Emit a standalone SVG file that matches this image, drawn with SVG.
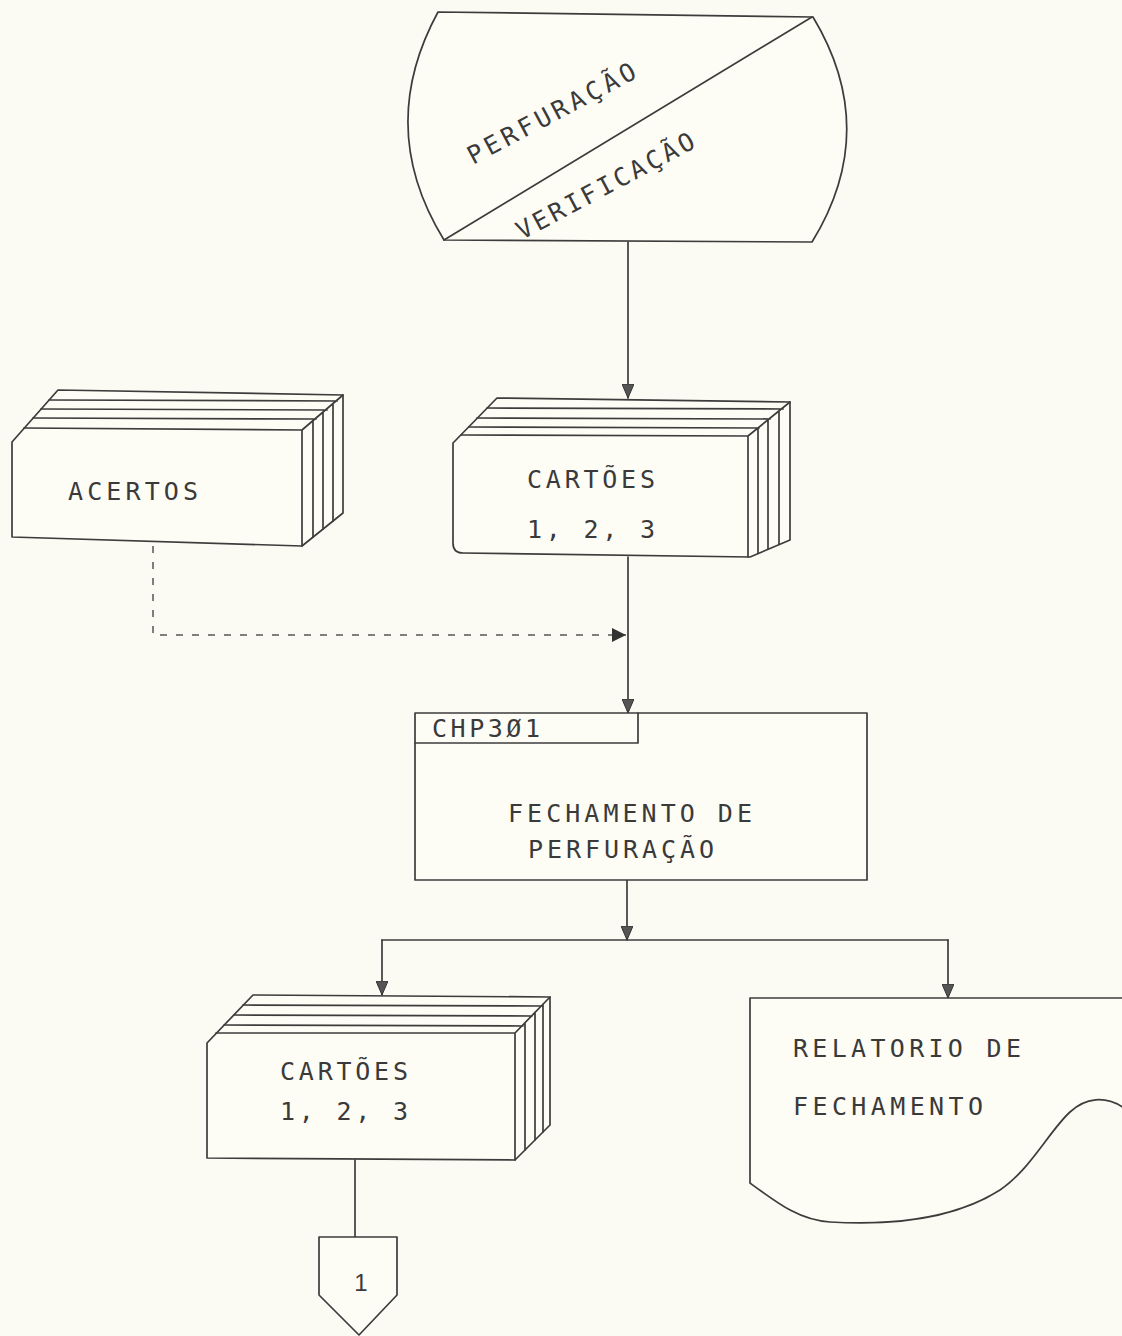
<svg xmlns="http://www.w3.org/2000/svg" width="1122" height="1336" viewBox="0 0 1122 1336">
<defs>
<style>
.s{fill:none;stroke:#3c3c3c;stroke-width:1.7;stroke-linejoin:round;stroke-linecap:round}
.f{fill:#fdfdf6;stroke:#3c3c3c;stroke-width:1.7;stroke-linejoin:round}
.t{font-family:"DejaVu Sans Mono","Liberation Mono",monospace;font-size:25px;fill:#3a3a3a}
.d{fill:none;stroke:#555;stroke-width:1.5;stroke-dasharray:7 9}
</style>
<marker id="ah" viewBox="0 0 14 12" refX="14" refY="6" markerWidth="14" markerHeight="12" markerUnits="userSpaceOnUse" orient="auto">
<path d="M0,0 L14,6 L0,12 Z" fill="#555" stroke="#333" stroke-width="1"/>
</marker>
<marker id="ahd" viewBox="0 0 14 14" refX="14" refY="7" markerWidth="14" markerHeight="14" markerUnits="userSpaceOnUse" orient="auto">
<path d="M0,0 L14,7 L0,14 Z" fill="#333"/>
</marker>
</defs>
<rect width="1122" height="1336" fill="#fbfbf3"/>

<g id="connectors">
<path class="s" d="M628,242 L628,398" marker-end="url(#ah)"/>
<path class="s" d="M628,557 L628,713" marker-end="url(#ah)"/>
<path class="d" d="M153,546 L153,635 L626,635" marker-end="url(#ahd)"/>
<path class="s" d="M627,880 L627,940" marker-end="url(#ah)"/>
<path class="s" d="M382,940 L948,940"/>
<path class="s" d="M382,940 L382,995" marker-end="url(#ah)"/>
<path class="s" d="M948,940 L948,998" marker-end="url(#ah)"/>
<path class="s" d="M355,1160 L355,1237"/>
</g>

<g id="perfuracao-verificacao">
<path class="f" d="M438,12 L813,17 Q881,130 812,242 L444,240 Q375,128 438,12 Z"/>
<path class="s" d="M444,240 L812,17"/>
<text class="t" x="473" y="165" transform="rotate(-28 473 165)" textLength="187">PERFURAÇÃO</text>
<text class="t" x="522" y="240" transform="rotate(-28 522 240)" textLength="198">VERIFICAÇÃO</text>
</g>

<g id="acertos">
<path class="f" d="M12,442 L58,390 L343,395 L343,513 L302,546 L12,537 Z"/>
<path class="s" d="M24,428 L302,430 L302,546 M302,430 L343,395 M49,400 L337,401 M41,409 L327,410 M33,418 L316,419 M313,421 L313,537 M323,412 L323,529 M333,404 L333,521"/>
<text class="t" x="68" y="500" textLength="130">ACERTOS</text>
</g>

<g id="cartoes-1">
<path class="f" d="M453,443 L497,398 L790,402 L790,540 L750,557 L463,553 Q453,553 453,543 Z"/>
<path class="s" d="M461,435 L748,436 L748,557 M748,436 L790,402 M487,408 L783,409 M477,418 L770,419 M469,427 L759,428 M758,428 L758,553 M768,420 L768,549 M779,411 L779,544"/>
<text class="t" x="527" y="488" textLength="128">CARTÕES</text>
<text class="t" x="527" y="538" textLength="128">1, 2, 3</text>
</g>

<g id="chp301">
<rect class="f" x="415" y="713" width="452" height="167"/>
<path class="s" d="M415,743 L638,743 L638,713"/>
<text class="t" x="432" y="737" textLength="108">CHP3Ø1</text>
<text class="t" x="508" y="822" textLength="244">FECHAMENTO DE</text>
<text class="t" x="528" y="858" textLength="186">PERFURAÇÃO</text>
</g>

<g id="cartoes-2">
<path class="f" d="M207,1043 L253,995 L550,997 L550,1125 L515,1160 L207,1158 Z"/>
<path class="s" d="M216,1033 L515,1033 L515,1160 M515,1033 L550,997 M243,1005 L542,1006 M234,1015 L532,1016 M224,1025 L523,1026 M525,1023 L525,1150 M535,1012 L535,1140 M543,1004 L543,1132"/>
<text class="t" x="280" y="1080" textLength="128">CARTÕES</text>
<text class="t" x="280" y="1120" textLength="128">1, 2, 3</text>
</g>

<g id="relatorio">
<path class="f" d="M1124,998 L750,998 L750,1183 C780,1205 800,1220 830,1222 C880,1225 950,1222 1000,1190 C1030,1170 1050,1130 1070,1112 C1085,1098 1105,1095 1124,1108"/>
<text class="t" x="793" y="1057" textLength="228">RELATORIO DE</text>
<text class="t" x="793" y="1115" textLength="190">FECHAMENTO</text>
</g>

<g id="connector-1">
<path class="f" d="M319,1237 L397,1237 L397,1295 L359,1335 L319,1295 Z"/>
<text x="361" y="1291" text-anchor="middle" font-family="Liberation Sans, Arial, sans-serif" font-size="24" fill="#3a3a3a">1</text>
</g>
</svg>
